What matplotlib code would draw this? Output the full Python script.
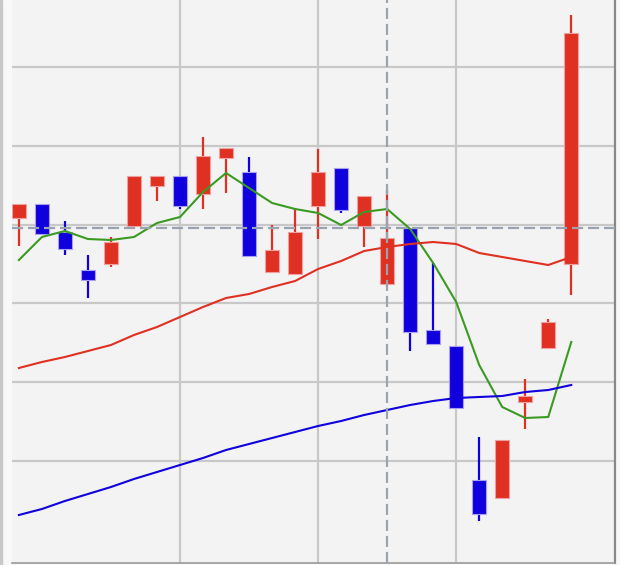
import numpy as np
import matplotlib
matplotlib.use("Agg")
import matplotlib.pyplot as plt

# daily candles (price units), index 0..24
opens  = [782, 796, 768, 730, 736, 774, 814, 824, 806, 842, 828, 728, 726, 794, 832, 774, 716, 772, 670, 654, 520, 502, 598, 652, 736]
highs  = [796, 796, 779, 745, 763, 824, 824, 824, 863, 852, 843, 775, 792, 851, 832, 804, 810, 772, 737, 654, 563, 560, 621, 681, 985]
lows   = [754, 766, 745, 702, 733, 774, 799, 791, 791, 807, 744, 728, 725, 761, 787, 753, 716, 649, 656, 592, 479, 502, 571, 652, 705]
closes = [796, 766, 751, 720, 758, 824, 824, 794, 844, 852, 744, 750, 768, 828, 790, 804, 762, 668, 656, 592, 486, 560, 604, 678, 967]

# moving averages
ma_short = [740, 763, 769, 761, 760, 763, 777, 783, 808, 827, 812, 797, 791, 787, 775, 788, 791, 771, 737, 698, 635, 593, 582, 583, 658]
ma_mid   = [632, 638, 643, 649, 655, 665, 673, 683, 693, 702, 706, 713, 719, 731, 739, 749, 753, 756, 758, 756, 747, 743, 739, 735, 743]
ma_long  = [485, 491, 499, 506, 513, 521, 528, 535, 542, 550, 556, 562, 568, 574, 579, 585, 590, 595, 599, 602, 603, 604, 608, 610, 615]

month_starts = [7, 13, 19]
cursor_idx = 16
cursor_price = 772

UP = '#e03022'
DOWN = '#1000dd'

fig = plt.figure(figsize=(6.2, 5.65), dpi=100, facecolor='#f8f8f8')
ax = fig.add_axes([12 / 620, 2 / 565, 603 / 620, 563 / 565])
ax.set_facecolor('#f3f3f3')

# thin gray strip at the far left
fig.patches.append(plt.Rectangle((0, 0), 2 / 620, 1, transform=fig.transFigure,
                                 color='#c8c8c8', zorder=0))

x = np.arange(len(opens))
o = np.array(opens)
c = np.array(closes)
up = c >= o
colors = [UP if u else DOWN for u in up]
edges = ['#f0a0a0' if u else '#a8a0f0' for u in up]

ax.vlines(x, lows, highs, colors=colors, linewidth=1.6, zorder=3)
ax.bar(x, np.abs(c - o), bottom=np.minimum(o, c), width=0.62, color=colors,
       edgecolor=edges, linewidth=0.8, zorder=4)

ax.plot(x, ma_short, color='#3a9a22', linewidth=1.5, zorder=5)
ax.plot(x, ma_mid, color=UP, linewidth=1.5, zorder=5)
ax.plot(x, ma_long, color=DOWN, linewidth=1.5, zorder=5)

# grid
for m in month_starts:
    ax.axvline(m, color='#c8c8c8', linewidth=1.6, zorder=1)
for yv in np.arange(539, 1000, 78.8):
    ax.axhline(yv, color='#c8c8c8', linewidth=1.6, zorder=1)

# crosshair
dash = (0, (5, 2.2))
ax.axvline(cursor_idx, color='#9aa4b0', linewidth=1.6, linestyle=dash, zorder=6)
ax.axhline(cursor_price, color='#9aa4b0', linewidth=1.6, linestyle=dash, zorder=6)

ax.set_xlim(-0.3, 25.9)
ax.set_ylim(437, 1000)
ax.set_xticks([])
ax.set_yticks([])
for s in ['left', 'top']:
    ax.spines[s].set_visible(False)
ax.spines['right'].set_color('#888888')
ax.spines['right'].set_linewidth(1.6)
ax.spines['bottom'].set_color('#999999')
ax.spines['bottom'].set_linewidth(1.2)

fig.savefig('out.png', dpi=100, facecolor=fig.get_facecolor())
